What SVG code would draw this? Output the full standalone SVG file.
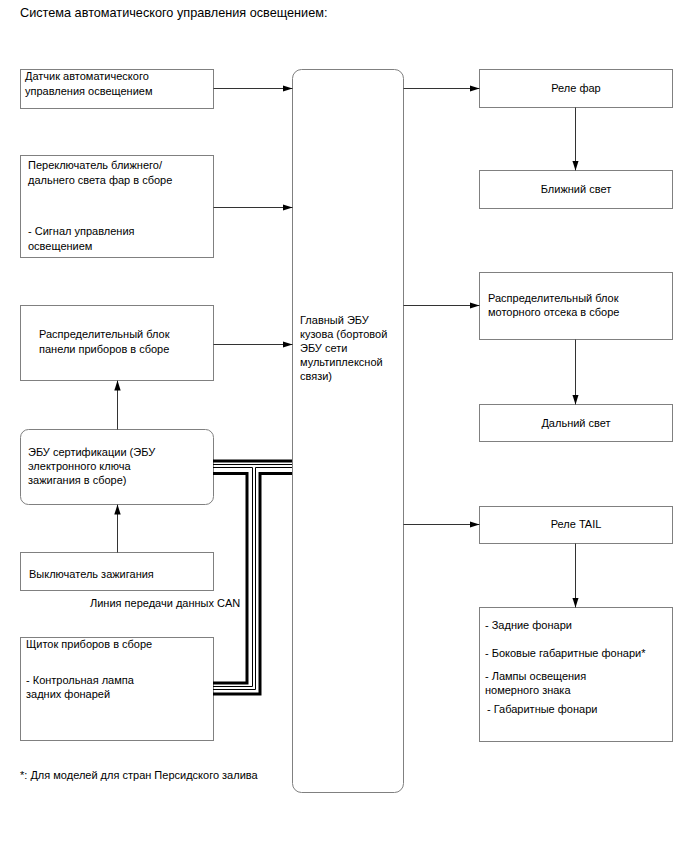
<svg xmlns="http://www.w3.org/2000/svg" width="688" height="852" viewBox="0 0 688 852">
<style>
text{font-family:"Liberation Sans",Arial,sans-serif;font-size:11px;fill:#000}
.title{font-size:12.7px}
.box{fill:#fff;stroke:#808080;stroke-width:1}
.c{text-anchor:middle}
.arr{stroke:#333;stroke-width:1;fill:none;marker-end:url(#ah)}
.thick{stroke:#000;stroke-width:3;fill:none}
.thin{stroke:#000;stroke-width:1;fill:none}
</style>
<defs>
<marker id="ah" markerWidth="10" markerHeight="8" refX="10" refY="4" orient="auto" markerUnits="userSpaceOnUse">
<path d="M0,0.8 L10,4 L0,7.2 Z" fill="#000"/>
</marker>
</defs>
<rect width="688" height="852" fill="#fff"/>
<text class="title" x="20" y="17">Система автоматического управления освещением:</text>

<g id="n-sensor"><rect class="box" x="20.5" y="69.5" width="193" height="39"/>
<text x="25" y="80">Датчик автоматического</text><text x="25" y="95">управления освещением</text></g>

<g id="n-switch"><rect class="box" x="20.5" y="155.5" width="193" height="102"/>
<text x="28" y="169">Переключатель ближнего/</text><text x="28" y="184">дальнего света фар в сборе</text>
<text x="28" y="235">- Сигнал управления</text><text x="28" y="250">освещением</text></g>

<g id="n-panelblock"><rect class="box" x="20.5" y="305.5" width="193" height="75"/>
<text x="39" y="338">Распределительный блок</text><text x="39" y="353">панели приборов в сборе</text></g>

<g id="n-certecu"><rect class="box" x="20.5" y="429.5" width="193" height="75" rx="8"/>
<text x="28" y="456">ЭБУ сертификации (ЭБУ</text><text x="28" y="470">электронного ключа</text><text x="28" y="484">зажигания в сборе)</text></g>

<g id="n-ignition"><rect class="box" x="20.5" y="552.5" width="193" height="38"/>
<text x="29" y="578">Выключатель зажигания</text></g>

<g id="n-meter"><rect class="box" x="20.5" y="637.5" width="193" height="103"/>
<text x="26" y="648">Щиток приборов в сборе</text>
<text x="26" y="684">- Контрольная лампа</text><text x="26" y="698">задних фонарей</text></g>

<g id="n-main"><rect class="box" x="292.5" y="69.5" width="111" height="723" rx="9"/>
<text x="300" y="324">Главный ЭБУ</text><text x="300" y="338">кузова (бортовой</text><text x="300" y="352">ЭБУ сети</text><text x="300" y="366">мультиплексной</text><text x="300" y="380">связи)</text></g>

<g id="n-headrelay"><rect class="box" x="479.5" y="69.5" width="193" height="38"/>
<text class="c" x="576" y="92">Реле фар</text></g>

<g id="n-low"><rect class="box" x="479.5" y="170.5" width="193" height="38"/>
<text class="c" x="576" y="193">Ближний свет</text></g>

<g id="n-engblock"><rect class="box" x="479.5" y="272.5" width="193" height="67"/>
<text x="488" y="302">Распределительный блок</text><text x="488" y="316">моторного отсека в сборе</text></g>

<g id="n-high"><rect class="box" x="479.5" y="404.5" width="193" height="37"/>
<text class="c" x="576" y="427">Дальний свет</text></g>

<g id="n-tail"><rect class="box" x="479.5" y="506.5" width="193" height="37"/>
<text class="c" x="576" y="528">Реле TAIL</text></g>

<g id="n-lamps"><rect class="box" x="479.5" y="607.5" width="193" height="134"/>
<text x="485" y="629">- Задние фонари</text>
<text x="485" y="657">- Боковые габаритные фонари*</text>
<text x="485" y="680">- Лампы освещения</text><text x="485" y="694">номерного знака</text>
<text x="487" y="713">- Габаритные фонари</text></g>

<g id="connectors">
<line class="arr" x1="213.5" y1="88.5" x2="292.5" y2="88.5"/>
<line class="arr" x1="213.5" y1="207.5" x2="292.5" y2="207.5"/>
<line class="arr" x1="213.5" y1="344.5" x2="292.5" y2="344.5"/>
<line class="arr" x1="117.5" y1="429.5" x2="117.5" y2="380.5"/>
<line class="arr" x1="117.5" y1="552.5" x2="117.5" y2="504.5"/>
<line class="arr" x1="403.5" y1="88.5" x2="479.5" y2="88.5"/>
<line class="arr" x1="403.5" y1="305.5" x2="479.5" y2="305.5"/>
<line class="arr" x1="403.5" y1="524.5" x2="479.5" y2="524.5"/>
<line class="arr" x1="575.5" y1="107.5" x2="575.5" y2="170.5"/>
<line class="arr" x1="575.5" y1="339.5" x2="575.5" y2="404.5"/>
<line class="arr" x1="575.5" y1="543.5" x2="575.5" y2="607.5"/>
<g id="can-bus">
<line class="thick" x1="213" y1="461" x2="292" y2="461"/>
<line class="thin" x1="213" y1="464.5" x2="292" y2="464.5"/>
<path class="thin" d="M213,467.5 H252.5 V686.5 H213"/>
<path class="thin" d="M292,467.5 H255.5 V689.5 H213"/>
<path class="thick" d="M213,473.5 H247 V683 H213"/>
<path class="thick" d="M292,473.5 H260 V694 H213"/>
</g>
</g>
<text x="90" y="607">Линия передачи данных CAN</text>
<text x="20" y="779">*: Для моделей для стран Персидского залива</text>
</svg>
